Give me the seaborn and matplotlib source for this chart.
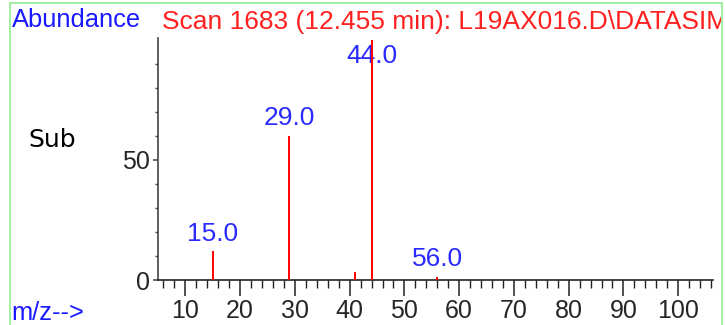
import matplotlib
matplotlib.use("Agg")
import matplotlib.pyplot as plt
import seaborn as sns
import numpy as np
from matplotlib.lines import Line2D
from matplotlib.ticker import MultipleLocator, FixedLocator
from matplotlib.transforms import Bbox, TransformedBbox

# m/z de los picos y su abundancia relativa
mz = [15.0, 29.0, 41.0, 44.0, 56.0]
abundancia = [12.0, 60.0, 3.5, 100.0, 1.3]
etiquetados = [15.0, 29.0, 44.0, 56.0]

titulo = "Scan 1683 (12.455 min): L19AX016.D\\DATASIM"

sns.set_style("white")
plt.rcParams["font.family"] = ["Liberation Sans", "DejaVu Sans"]

fig = plt.figure(figsize=(7.25, 3.25), dpi=100)
ax = fig.add_axes([158 / 725, 45 / 325, (712.7 - 158) / 725, (280 - 38) / 325])

ax.vlines(mz, 0, abundancia, color="#ff0000", linewidth=1.4, zorder=3)

for x, y in zip(mz, abundancia):
    if x in etiquetados:
        ax.annotate(f"{x:.1f}", (x, min(y, 86)), textcoords="offset points", xytext=(0, 4),
                    ha="center", va="bottom", fontsize=19, color="#2a2aff", zorder=2)

ax.set_xlim(5, 106.3)
ax.set_ylim(0, 100.8)
ax.xaxis.set_major_locator(MultipleLocator(10))
ax.xaxis.set_minor_locator(MultipleLocator(2))
ax.yaxis.set_major_locator(FixedLocator([0, 50]))
ax.yaxis.set_minor_locator(FixedLocator([10, 20, 30, 40, 60, 70, 80, 90]))

sns.despine(ax=ax)
ax.spines["left"].set_color("#444444")
ax.spines["left"].set_linewidth(1.2)
ax.spines["bottom"].set_color("#222222")
ax.spines["bottom"].set_linewidth(1.2)

ax.tick_params(axis="x", which="major", length=11.5, width=1.1, color="#222222",
               labelsize=18, pad=2.5, bottom=True)
ax.tick_params(axis="x", which="minor", length=5.8, width=1.0, color="#222222", bottom=True)
ax.tick_params(axis="y", which="major", length=3.6, width=1.1, color="#444444",
               labelsize=18, pad=2, left=True)
ax.tick_params(axis="y", which="minor", length=2.2, width=1.0, color="#444444", left=True)

fig.text(12 / 725, 1 - 20 / 325, "Abundance", color="#1a1aff", fontsize=18.4, va="center", ha="left")
t = fig.text(162 / 725, 1 - 22 / 325, titulo, color="#ff2020", fontsize=19, va="center", ha="left")
t.set_clip_on(True)
t.set_clip_box(TransformedBbox(Bbox([[0, 0], [721 / 725, 1]]), fig.transFigure))
fig.text(28 / 725, 1 - 140 / 325, "Sub", color="black", fontsize=18, va="center", ha="left",
         family="DejaVu Sans")
fig.text(11 / 725, 1 - 320 / 325, "m/z-->", color="#1a1aff", fontsize=18.4, va="baseline", ha="left")

verde = "#90ee90"
fig.add_artist(Line2D([10 / 725, 10 / 725], [0, 1 - 3 / 325], color=verde, linewidth=1.2))
fig.add_artist(Line2D([10 / 725, 722 / 725], [1 - 3 / 325, 1 - 3 / 325], color=verde, linewidth=1.2))
fig.add_artist(Line2D([722 / 725, 722 / 725], [0, 1 - 3 / 325], color=verde, linewidth=1.2))

fig.savefig("out.png", dpi=100)
